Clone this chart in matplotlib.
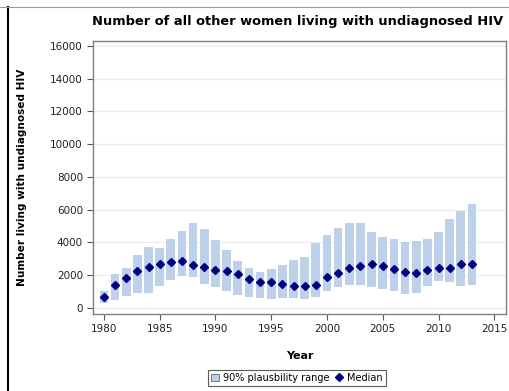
import matplotlib
matplotlib.use("Agg")
import matplotlib.pyplot as plt
from matplotlib.lines import Line2D
from matplotlib.patches import Patch
import numpy as np

years = list(range(1980, 2014))
median = [670, 1390, 1800, 2270, 2490, 2670, 2780, 2840, 2630, 2490,
          2300, 2250, 2040, 1760, 1550, 1550, 1450, 1350, 1330, 1370,
          1860, 2100, 2400, 2530, 2690, 2530, 2350, 2180, 2100, 2300,
          2400, 2450, 2650, 2650]
upper = [1020, 2040, 2430, 3220, 3710, 3670, 4220, 4670, 5160, 4790,
         4160, 3550, 2860, 2450, 2160, 2350, 2590, 2920, 3080, 3980,
         4470, 4850, 5200, 5200, 4650, 4350, 4220, 4020, 4100, 4220,
         4610, 5430, 5920, 6320]
lower = [270, 470, 720, 880, 880, 1350, 1690, 1940, 1860, 1450,
         1290, 1040, 780, 630, 590, 550, 570, 570, 510, 680,
         1040, 1270, 1370, 1410, 1270, 1120, 1020, 820, 880, 1330,
         1650, 1550, 1330, 1370]
yticks = list(range(0, 16001, 2000))
xticks = list(range(1980, 2016, 5))

fig = plt.figure(figsize=(5.10, 3.91), dpi=100)
ax = fig.add_axes([93.3/510, 1-314/391, (506-93.3)/510, (314-40.7)/391])

bar_color = "#bdd1ea"
med_color = "#000080"
heights = [u - l for u, l in zip(upper, lower)]
ax.bar(years, heights, bottom=lower, width=0.78, color=bar_color, zorder=2)
ax.plot(years, median, linestyle="none", marker="D", markersize=4.0,
        color=med_color, zorder=3)

ax.set_xlim(1979.05, 2016.05)
ax.set_ylim(-390, 16330)
ax.set_yticks(yticks)
ax.set_xticks(xticks)
ax.yaxis.grid(True, color="#ececec", linewidth=0.8, zorder=0)
ax.set_axisbelow(True)
for s in ax.spines.values():
    s.set_color("#808080")
    s.set_linewidth(1.0)
ax.tick_params(axis="both", labelsize=7.5, colors="#555555", length=4,
               width=0.8, direction="out")
for lab in ax.get_xticklabels() + ax.get_yticklabels():
    lab.set_color("#222222")

fig.text(298/510, 1-22/391, "Number of all other women living with undiagnosed HIV",
         ha="center", va="center", fontsize=9.4, fontweight="bold")
ax.set_xlabel("Year", fontsize=8, fontweight="bold", labelpad=12)
ax.set_ylabel("Number living with undiagnosed HIV", fontsize=7.6,
              fontweight="bold", labelpad=17)

handles = [Patch(facecolor=bar_color, edgecolor="#666666", linewidth=0.6),
           Line2D([], [], linestyle="none", marker="D", markersize=4,
                  color=med_color)]
leg = fig.legend(handles, ["90% plausbility range", "Median"],
                 loc="center", bbox_to_anchor=(297/510, 1-378/391), ncol=2,
                 fontsize=7, frameon=True, fancybox=False,
                 handlelength=0.8, handletextpad=0.4, columnspacing=0.6,
                 borderpad=0.3, handleheight=0.8)
leg.get_frame().set_edgecolor("#333333")
leg.get_frame().set_linewidth(0.8)

fig.add_artist(Line2D([8.5/510, 8.5/510], [0, 1-6.5/391], color="black",
                      linewidth=1.5, transform=fig.transFigure))
fig.add_artist(Line2D([0, 1], [1-6.5/391, 1-6.5/391], color="#999999",
                      linewidth=0.8, transform=fig.transFigure))

fig.savefig("out.png", dpi=100)
